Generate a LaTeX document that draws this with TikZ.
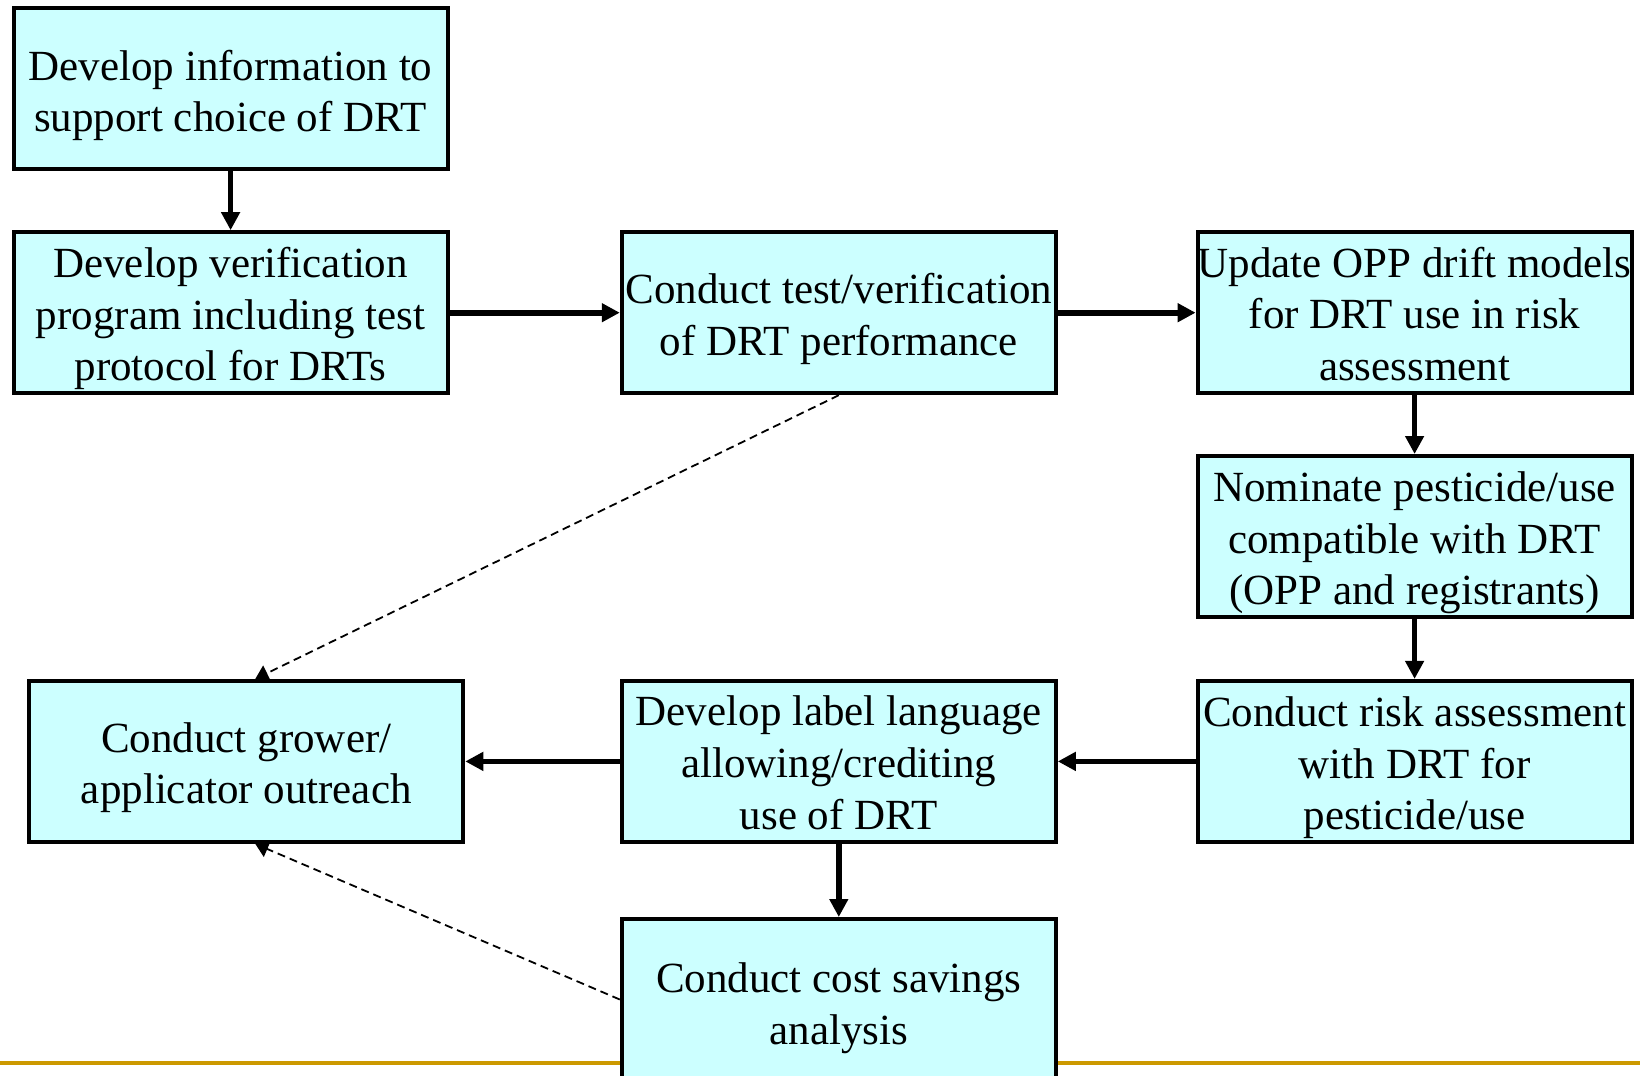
\documentclass[tikz,border=0pt]{standalone}
\usepackage{fontspec}
\setmainfont{Liberation Serif}
\usetikzlibrary{arrows.meta}
\definecolor{boxfill}{HTML}{CCFFFF}
\definecolor{rulegold}{HTML}{CC9900}
\begin{document}
\begin{tikzpicture}[x=0.5pt,y=-0.5pt,
  box/.style={draw=black, line width=2pt, fill=boxfill, minimum width=217pt,
    minimum height=80.5pt, inner sep=0pt},
  txt/.style={inner sep=0pt, align=center, font=\fontsize{21.5}{25.8}\selectfont},
  flow/.style={line width=2.8pt, -{Triangle[length=9pt,width=9pt]}},
  dlink/.style={line width=0.9pt, dash pattern=on 4pt off 2.5pt,
    -{Triangle[length=6.5pt,width=8.5pt]}}
]
\useasboundingbox (0,0) rectangle (1640,1076);
\draw[rulegold, line width=2pt] (0,1063) -- (1640,1063);

\node[box] (b1) at (230.6,88.9) {};
\node[box] (b2) at (230.6,312.7) {};
\node[box] (b3) at (838.8,312.7) {};
\node[box] (b4) at (1414.6,312.7) {};
\node[box] (b5) at (1414.6,536.5) {};
\node[box] (b6) at (1414.6,761.4) {};
\node[box] (b7) at (838.8,761.4) {};
\node[box] (b8) at (246.3,761.4) {};
\node[box] (b9) at (838.8,999.5) {};

\node[txt] (t1) at ([yshift=-3.2pt]b1.center) {Develop information to\\support choice of DRT};
\node[txt] (t2) at ([yshift=-3.0pt]b2.center) {Develop verification\\program including test\\protocol for DRTs};
\node[txt] (t3) at ([yshift=-3.2pt]b3.center) {Conduct test/verification\\of DRT performance};
\node[txt] (t4) at ([yshift=-0.6pt]b4.center) {Update OPP drift models\\for DRT use in risk\\assessment};
\node[txt] (t5) at ([yshift=-3.2pt]b5.center) {Nominate pesticide/use\\compatible with DRT\\(OPP and registrants)};
\node[txt] (t6) at ([yshift=-3.2pt]b6.center) {Conduct risk assessment\\with DRT for\\pesticide/use};
\node[txt] (t7) at ([yshift=-0.7pt]b7.center) {Develop label language\\allowing/crediting\\use of DRT};
\node[txt] (t8) at ([yshift=-3.2pt]b8.center) {Conduct grower/\\applicator outreach};
\node[txt] (t9) at ([yshift=-4.5pt]b9.center) {Conduct cost savings\\analysis};

\draw[flow] (b1) -- (b2);
\draw[flow] (b2) -- (b3);
\draw[flow] (b3) -- (b4);
\draw[flow] (b4) -- (b5);
\draw[flow] (b5) -- (b6);
\draw[flow] (b6) -- (b7);
\draw[flow] (b7) -- (b8);
\draw[flow] (b7) -- (b9);
\draw[dlink] (b3.south) -- ([xshift=4.5pt]b8.north);
\draw[dlink] (b9.west) -- ([xshift=4.5pt]b8.south);
\end{tikzpicture}
\end{document}
